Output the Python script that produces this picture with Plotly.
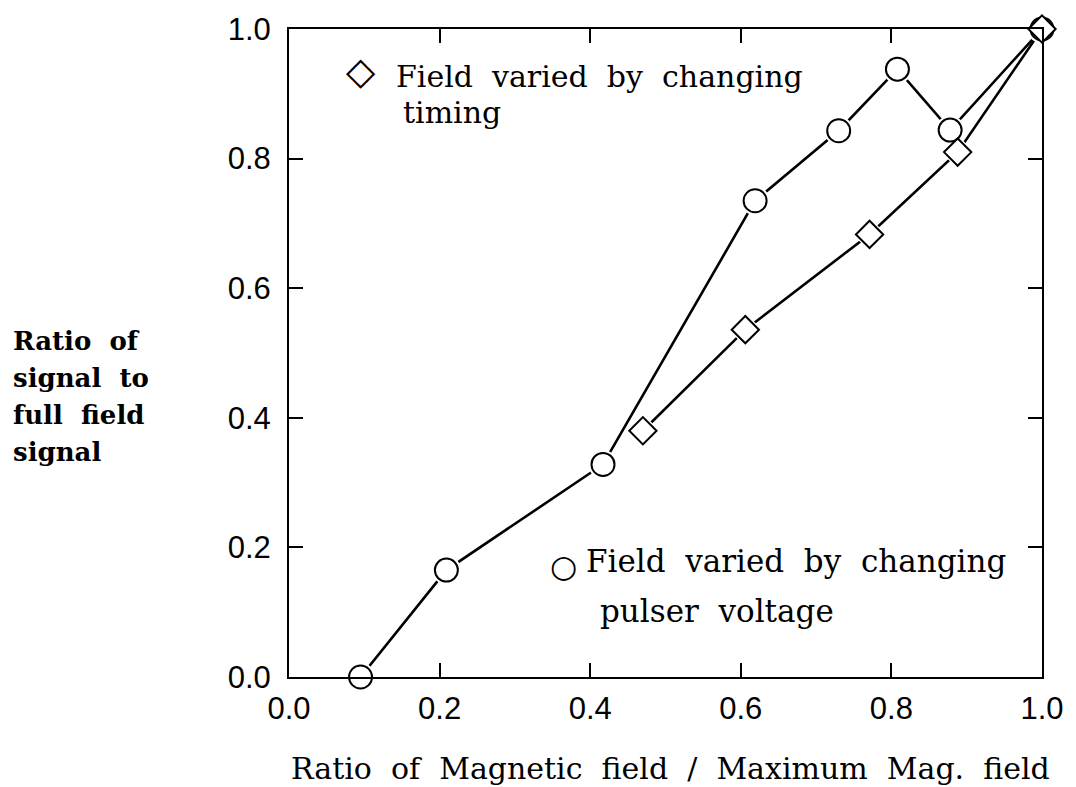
import plotly.graph_objects as go

# Data
pulser_x = [0.095, 0.209, 0.417, 0.619, 0.730, 0.808, 0.878, 1.0]
pulser_y = [0.0, 0.165, 0.328, 0.735, 0.843, 0.938, 0.844, 1.0]
timing_x = [0.470, 0.606, 0.771, 0.888, 1.0]
timing_y = [0.380, 0.536, 0.683, 0.810, 1.0]

tick_vals = [0.0, 0.2, 0.4, 0.6, 0.8, 1.0]
tick_text = ["0.0", "0.2", "0.4", "0.6", "0.8", "1.0"]

legend_timing = ["Field varied by changing", "timing"]
legend_pulser = ["Field varied by changing", "pulser voltage"]
x_title = "Ratio of Magnetic field / Maximum Mag. field"
y_title_lines = ["Ratio of", "signal to", "full field", "signal"]

serif = "DejaVu Serif"
sans = "Liberation Sans"


def wide(s):
    # the reference typeface uses wide word spacing
    return s.replace(" ", "\u00a0\u00a0")


fig = go.Figure()

# lines
fig.add_trace(go.Scatter(x=pulser_x, y=pulser_y, mode="lines",
                         line=dict(color="black", width=2.6), cliponaxis=False,
                         showlegend=False, hoverinfo="skip"))
fig.add_trace(go.Scatter(x=timing_x, y=timing_y, mode="lines",
                         line=dict(color="black", width=2.6), cliponaxis=False,
                         showlegend=False, hoverinfo="skip"))
# white masks for gaps around markers
fig.add_trace(go.Scatter(x=pulser_x, y=pulser_y, mode="markers",
                         marker=dict(symbol="circle", size=29, color="white", line=dict(width=0)),
                         cliponaxis=False, showlegend=False, hoverinfo="skip"))
fig.add_trace(go.Scatter(x=timing_x[:-1], y=timing_y[:-1], mode="markers",
                         marker=dict(symbol="diamond", size=26, color="white", line=dict(width=0)),
                         cliponaxis=False, showlegend=False, hoverinfo="skip"))
# markers
fig.add_trace(go.Scatter(x=pulser_x, y=pulser_y, mode="markers",
                         marker=dict(symbol="circle", size=23, color="white",
                                     line=dict(color="black", width=2)),
                         cliponaxis=False, showlegend=False))
fig.add_trace(go.Scatter(x=timing_x, y=timing_y, mode="markers",
                         marker=dict(symbol="diamond", size=21, color="white",
                                     line=dict(color="black", width=2)),
                         cliponaxis=False, showlegend=False))

L, R, T, B = 289, 29, 29, 110
W, H = 1076, 787
pw, ph = W - L - R, H - T - B


def px(xp):
    return (xp - L) / pw


def py(yp):
    return (H - B - yp) / ph


annotations = []
# legend 1 (timing)
annotations.append(dict(x=px(361), y=py(71), xref="paper", yref="paper", text="◇",
                        showarrow=False, xanchor="center", yanchor="middle",
                        font=dict(family="DejaVu Sans", size=38, color="black")))
annotations.append(dict(x=px(395), y=py(76), xref="paper", yref="paper", text=wide(legend_timing[0]),
                        showarrow=False, xanchor="left", yanchor="middle",
                        font=dict(family=serif, size=30, color="black")))
annotations.append(dict(x=px(402), y=py(112), xref="paper", yref="paper", text=wide(legend_timing[1]),
                        showarrow=False, xanchor="left", yanchor="middle",
                        font=dict(family=serif, size=30, color="black")))
# legend 2 (pulser)
annotations.append(dict(x=px(565), y=py(566), xref="paper", yref="paper", text="○",
                        showarrow=False, xanchor="center", yanchor="middle",
                        font=dict(family="DejaVu Sans", size=31, color="black")))
annotations.append(dict(x=px(586), y=py(561), xref="paper", yref="paper", text=wide(legend_pulser[0]),
                        showarrow=False, xanchor="left", yanchor="middle",
                        font=dict(family=serif, size=31, color="black")))
annotations.append(dict(x=px(600), y=py(611), xref="paper", yref="paper", text=wide(legend_pulser[1]),
                        showarrow=False, xanchor="left", yanchor="middle",
                        font=dict(family=serif, size=31, color="black")))
# x title
annotations.append(dict(x=px(673), y=py(768), xref="paper", yref="paper", text=wide(x_title),
                        showarrow=False, xanchor="center", yanchor="middle",
                        font=dict(family=serif, size=30, color="black")))
# y title
for i, line in enumerate(y_title_lines):
    annotations.append(dict(x=px(9), y=py(341 + 37 * i), xref="paper", yref="paper",
                            text="<b>" + wide(line) + "</b>", showarrow=False,
                            xanchor="left", yanchor="middle",
                            font=dict(family=serif, size=26, color="black")))

axis_common = dict(range=[0, 1], tickvals=tick_vals, ticktext=tick_text,
                   ticks="inside", ticklen=14, tickwidth=2, tickcolor="black",
                   showline=True, linecolor="black", linewidth=2, mirror="allticks",
                   showgrid=False, zeroline=False,
                   tickfont=dict(family=sans, size=31, color="black"))

fig.update_layout(
    width=W, height=H,
    margin=dict(l=L, r=R, t=T, b=B),
    paper_bgcolor="white", plot_bgcolor="white",
    xaxis=dict(**axis_common, ticklabelstandoff=3),
    yaxis=dict(**axis_common, ticklabelstandoff=10),
    annotations=annotations,
    showlegend=False,
)

fig.write_html("out.html", config={"displayModeBar": False},
               post_script="document.body.style.margin='0';")
